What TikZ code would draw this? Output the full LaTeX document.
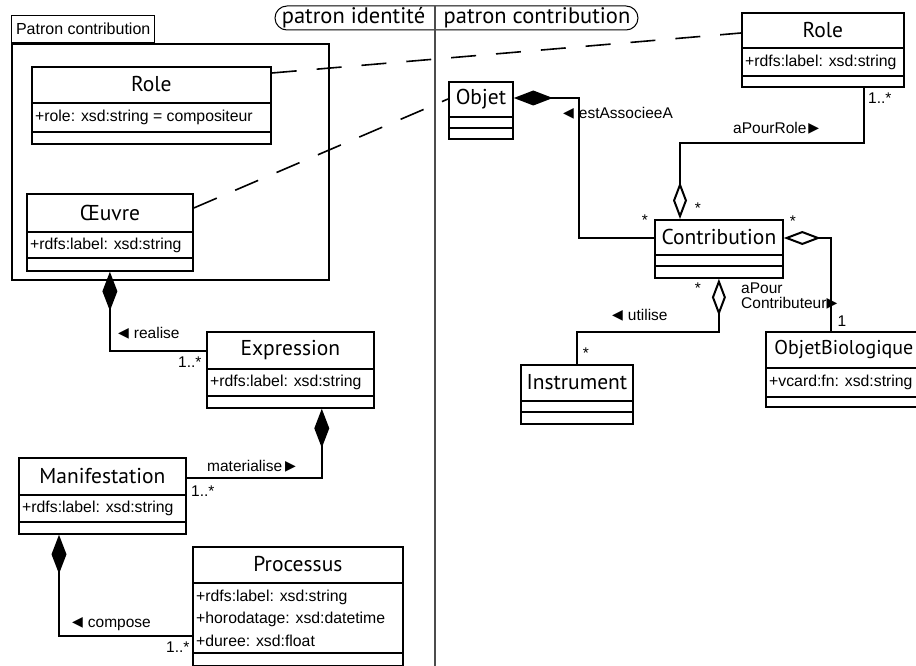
\documentclass[tikz,border=0pt]{standalone}
\usepackage{fontspec}
\setmainfont{Liberation Sans}
\newfontfamily\namefont{PT Sans}
\newfontfamily\symfont{DejaVu Sans}
\usetikzlibrary{arrows.meta,calc,positioning}

\newcommand{\triL}{{\symfont\fontsize{14}{14}\selectfont\raisebox{0.5pt}{◀}}}
\newcommand{\triR}{{\symfont\fontsize{14}{14}\selectfont\raisebox{0.5pt}{▶}}}

\tikzset{
  classbox/.style={draw, line width=1.8pt, inner sep=0pt},
  classline/.style={line width=1.8pt},
  classname/.style={font=\namefont\fontsize{21.5}{24}\selectfont, inner sep=0pt},
  titletext/.style={font=\namefont\fontsize{22.5}{24}\selectfont, inner sep=0pt},
  classattr/.style={anchor=west, align=left, inner xsep=4pt, inner ysep=0pt, font=\fontsize{15.8}{22.5}\selectfont},
  lbl/.style={inner sep=0pt, font=\fontsize{15.5}{15}\selectfont},
  comp/.style={line width=2pt, {Diamond[length=39pt,width=15pt]}-},
  aggr/.style={line width=2pt, {Diamond[open,length=37pt,width=14pt]}-},
  trace/.style={line width=1.6pt, dash pattern=on 25pt off 20pt},
  pkgbody/.style={draw, line width=1.8pt, inner sep=0pt},
  pkgtab/.style={draw, line width=1.4pt, inner sep=0pt, font=\fontsize{16}{18}\selectfont},
  pill/.style={draw, line width=1pt, rounded corners=12pt, inner sep=0pt},
  divider/.style={line width=1.1pt, black!70},
}

% class box: name, NW corner, width, height, name part, attribute part end, title, attributes
\newcommand{\umlclass}[8]{%
  \node[classbox, minimum width=#3pt, minimum height=#4pt, anchor=north west] (#1) at #2 {};
  \node[classname] (#1-name) at ($(#1.north)+(0,#5/2)$) {#7};
  \draw[classline] ($(#1.north west)+(0,#5)$) -- ($(#1.north east)+(0,#5)$);
  \draw[classline] ($(#1.north west)+(0,#6)$) -- ($(#1.north east)+(0,#6)$);
  \node[classattr] (#1-attr) at ($(#1.north west)+(0,{(#5+#6)/2})$) {#8};
}

\begin{document}
\begin{tikzpicture}[x=1pt,y=-1pt]
  \useasboundingbox (0,0) rectangle (916,666);

  % title and divider
  \node[pill, minimum width=363pt, minimum height=24pt] (pill) at (456.5,18) {};
  \node[titletext] (tIdent) at (353.5,18) {patron identité};
  \node[titletext] (tContrib) at (537,18) {patron contribution};
  \coordinate (divTop) at (435,6);
  \coordinate (divBot) at (435,666);
  \draw[divider] (divTop) -- (divBot);

  % package
  \node[pkgbody, minimum width=317pt, minimum height=236pt, anchor=north west] (pkg) at (11,43) {};
  \node[pkgtab, minimum width=143pt, minimum height=27pt, anchor=south west] (pkgtab) at (pkg.north west) {Patron contribution};

  % classes
  \umlclass{roleL}{(31,66)}{239}{77}{37}{66}{Role}{+role: xsd:string = compositeur}
  \umlclass{oeuvre}{(26,193)}{166}{77}{39}{65}{Œuvre}{+rdfs:label: xsd:string}
  \umlclass{roleR}{(741,12)}{162}{74}{36}{64}{Role}{+rdfs:label: xsd:string}
  \umlclass{objet}{(448,81)}{64}{57}{36}{47}{Objet}{}
  \umlclass{contrib}{(654,219)}{128}{58}{36}{47}{Contribution}{}
  \umlclass{instr}{(520,364)}{112}{59}{37}{48}{Instrument}{}
  \umlclass{objbio}{(765,331)}{156}{75}{37}{66}{\fontsize{20}{24}\selectfont ObjetBiologique}{+vcard:fn: xsd:string}
  \umlclass{expr}{(206,331)}{167}{76}{38}{65}{Expression}{+rdfs:label: xsd:string}
  \umlclass{manif}{(18,457)}{167}{76}{38}{65}{Manifestation}{+rdfs:label: xsd:string}
  \umlclass{proc}{(192,546)}{210}{119}{37}{107}{Processus}{+rdfs:label: xsd:string\\+horodatage: xsd:datetime\\+duree: xsd:float}

  % dashed correspondences
  \draw[trace] ([yshift=-7pt]roleL.north east) -- ([yshift=-21pt]roleR.north west);
  \draw[trace] ([yshift=-15pt]oeuvre.north east) -- ([yshift=-18pt]objet.north west);

  % associations
  \draw[comp] ([yshift=-17pt]objet.north east) -- ++(65,0) |- ([yshift=-19pt]contrib.north west);
  \draw[aggr] ([xshift=26pt]contrib.north west) -- ++(0,-76) -| ([xshift=-41pt]roleR.south east);
  \draw[aggr] ([yshift=-19pt]contrib.north east) -| ([xshift=66pt]objbio.north west);
  \draw[aggr] (contrib.south) -- ++(0,53) -| (instr.north);
  \draw[comp] (oeuvre.south) |- ([yshift=-20pt]expr.north west);
  \draw[comp] ([xshift=-53pt]expr.south east) |- ([yshift=-21pt]manif.north east);
  \draw[comp] ([xshift=41pt]manif.south west) |- ([yshift=-90pt]proc.north west);

  % labels and multiplicities
  \node[lbl, anchor=west] (lEst) at (563,113) {\triL\hspace{5pt}estAssocieeA};
  \node[lbl, anchor=west] (lRole) at (733,128) {aPourRole\hspace{2pt}\triR};
  \node[lbl, anchor=west] (mRoleR) at (868,98) {1..*};
  \node[lbl] (mContT) at (698,208) {*};
  \node[lbl] (mContL) at (645,220) {*};
  \node[lbl] (mContR) at (793,221) {*};
  \node[lbl, anchor=west, align=left] (lContrib) at (741,296) {aPour\\Contributeur\triR};
  \node[lbl] (mBio) at (842,321) {1};
  \node[lbl] (mContB) at (698,288) {*};
  \node[lbl, anchor=west] (lUtil) at (612,315) {\triL\hspace{5pt}utilise};
  \node[lbl] (mInstr) at (586,353) {*};
  \node[lbl, anchor=west] (lReal) at (118,333) {\triL\hspace{5pt}realise};
  \node[lbl, anchor=west] (mExpr) at (178,362) {1..*};
  \node[lbl, anchor=west] (lMat) at (207,466) {materialise\hspace{3pt}\triR};
  \node[lbl, anchor=west] (mManif) at (191,491) {1..*};
  \node[lbl, anchor=west] (lComp) at (72,624) {\triL\hspace{5pt}compose};
  \node[lbl, anchor=west] (mProc) at (166,647) {1..*};
\end{tikzpicture}
\end{document}
